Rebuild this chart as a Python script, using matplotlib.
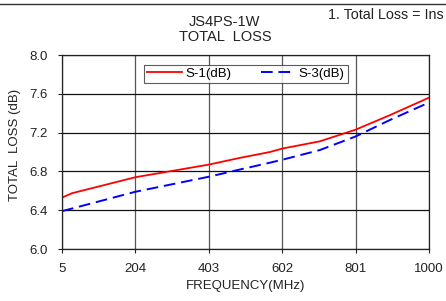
import matplotlib
matplotlib.use("Agg")
import matplotlib.pyplot as plt
from matplotlib.lines import Line2D

plt.rcParams['font.family'] = ['Liberation Sans', 'DejaVu Sans']

freq_s1 = [5, 32, 204, 403, 488, 569, 602, 704, 801, 894, 1000]
loss_s1 = [6.53, 6.575, 6.74, 6.87, 6.94, 7.00, 7.035, 7.11, 7.23, 7.38, 7.56]
freq_s3 = [5, 204, 403, 488, 569, 602, 704, 801, 894, 1000]
loss_s3 = [6.39, 6.59, 6.745, 6.82, 6.89, 6.92, 7.02, 7.16, 7.33, 7.51]
xticks = [5, 204, 403, 602, 801, 1000]
yticks = [6.0, 6.4, 6.8, 7.2, 7.6, 8.0]

W, H = 446, 301
fig = plt.figure(figsize=(W/100, H/100), dpi=100)
ax = fig.add_axes([62/W, 1-249/H, (429-62)/W, (249-55)/H])

ax.plot(freq_s1, loss_s1, color='#ff0000', lw=1.3, label='S-1(dB)')
ax.plot(freq_s3, loss_s3, color='#0000ff', lw=1.4, dashes=(6, 3), label='S-3(dB)')

ax.set_xlim(5, 1000)
ax.set_ylim(6.0, 8.0)
ax.set_xticks(xticks)
ax.set_xticklabels([str(v) for v in xticks])
ax.set_yticks(yticks)
ax.set_yticklabels([f"{v:.1f}" for v in yticks])
ax.tick_params(axis='both', labelsize=9.5, direction='out', length=3, width=0.8, colors='#222222')
ax.tick_params(axis='x', pad=7)
ax.tick_params(axis='y', pad=7.5)
ax.xaxis.grid(True, color='#555555', lw=0.9)
ax.yaxis.grid(True, color='#111111', lw=0.9)
for s in ax.spines.values():
    s.set_color('#222222')
    s.set_linewidth(0.9)

ax.set_xlabel('FREQUENCY(MHz)', fontsize=9.5, color='#222222')
ax.xaxis.set_label_coords(0.5, -(286-249)/(249-55), transform=ax.transAxes)
ax.set_ylabel('TOTAL  LOSS (dB)', fontsize=9.5, color='#222222')
ax.yaxis.set_label_coords(-(62-15)/(429-62), (249-145)/(249-55), transform=ax.transAxes)
ax.xaxis.label.set_va('center')
ax.yaxis.label.set_va('center')

leg = ax.legend(loc='center', bbox_to_anchor=((246-62)/(429-62), (249-74)/(249-55)), ncol=2,
                fontsize=9.5, frameon=True, fancybox=False, edgecolor='#333333', borderpad=0.25,
                handlelength=2.6, columnspacing=2.2, handletextpad=0.3, borderaxespad=0)
leg.get_frame().set_linewidth(0.8)

fig.text(224/W, 1-22/H, 'JS4PS-1W', ha='center', va='center', fontsize=10.5, color='#222222')
fig.text(225/W, 1-37/H, 'TOTAL  LOSS', ha='center', va='center', fontsize=10.5, color='#222222')
fig.text(328/W, 1-15/H, '1. Total Loss = Ins', ha='left', va='center', fontsize=10.3, color='#222222')
fig.add_artist(Line2D([0, 1], [1-4/H, 1-4/H], color='#333333', lw=1.0, transform=fig.transFigure))

fig.savefig('out.png', dpi=100)
